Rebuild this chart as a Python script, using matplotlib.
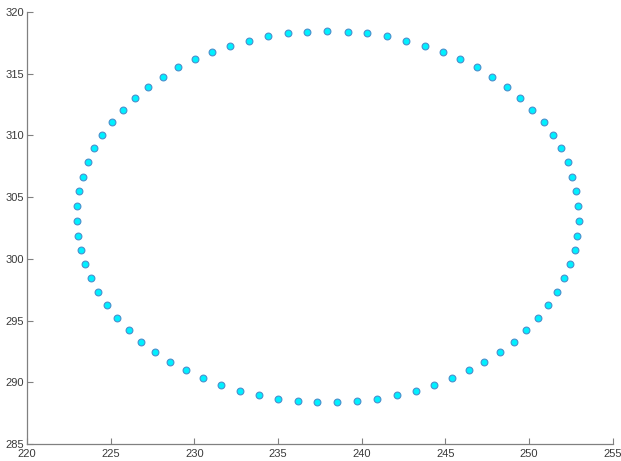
import matplotlib
matplotlib.use("Agg")
import matplotlib.pyplot as plt

x_vals = [237.95, 236.75, 235.58, 234.40, 233.27, 232.13, 231.07, 230.04, 229.04, 228.12,
          227.24, 226.47, 225.71, 225.07, 224.49, 224.01, 223.64, 223.32, 223.12, 222.98,
          222.96, 223.02, 223.20, 223.46, 223.82, 224.25, 224.77, 225.39, 226.07, 226.82,
          227.66, 228.56, 229.52, 230.53, 231.57, 232.71, 233.85, 235.00, 236.18, 237.35,
          238.55, 239.74, 240.92, 242.10, 243.24, 244.33, 245.37, 246.41, 247.34, 248.24,
          249.10, 249.85, 250.53, 251.15, 251.69, 252.12, 252.48, 252.75, 252.90, 252.99,
          252.94, 252.82, 252.60, 252.33, 251.91, 251.43, 250.87, 250.21, 249.47, 248.68,
          247.80, 246.88, 245.89, 244.85, 243.77, 242.66, 241.52, 240.34, 239.15]
y_vals = [318.44, 318.40, 318.27, 318.03, 317.67, 317.27, 316.78, 316.17, 315.52, 314.76,
          313.92, 313.03, 312.08, 311.11, 310.03, 308.98, 307.82, 306.65, 305.47, 304.28,
          303.09, 301.87, 300.71, 299.55, 298.42, 297.28, 296.23, 295.18, 294.21, 293.28,
          292.45, 291.66, 290.96, 290.32, 289.76, 289.29, 288.94, 288.64, 288.45, 288.37,
          288.37, 288.45, 288.64, 288.94, 289.29, 289.76, 290.32, 290.96, 291.66, 292.45,
          293.28, 294.21, 295.18, 296.23, 297.28, 298.42, 299.55, 300.71, 301.87, 303.09,
          304.28, 305.47, 306.65, 307.82, 308.98, 310.03, 311.11, 312.08, 313.03, 313.92,
          314.76, 315.52, 316.17, 316.78, 317.27, 317.67, 318.03, 318.27, 318.40]

x_ticks = [220, 225, 230, 235, 240, 245, 250, 255]
y_ticks = [285, 290, 295, 300, 305, 310, 315, 320]

plt.rcParams['font.family'] = ['Liberation Sans', 'DejaVu Sans']

fig = plt.figure(figsize=(6.21, 4.61), dpi=100)
ax = fig.add_axes([0.0438, 0.0369, 0.9427, 0.9371])

ax.scatter(x_vals, y_vals, s=24, facecolor='#00F0FF', edgecolor='#4A8FCC',
           linewidths=0.8, zorder=3)

ax.set_xlim(220, 255)
ax.set_ylim(285, 320)
ax.set_xticks(x_ticks)
ax.set_yticks(y_ticks)
for s in ['top', 'right']:
    ax.spines[s].set_visible(False)
for s in ['left', 'bottom']:
    ax.spines[s].set_color('#808080')
    ax.spines[s].set_linewidth(0.9)
ax.tick_params(direction='in', length=4, width=0.8, color='#808080',
               labelsize=8, labelcolor='#3a3a3a', pad=2)
ax.tick_params(axis='x', pad=3.5)

fig.savefig('out.png', dpi=100)
